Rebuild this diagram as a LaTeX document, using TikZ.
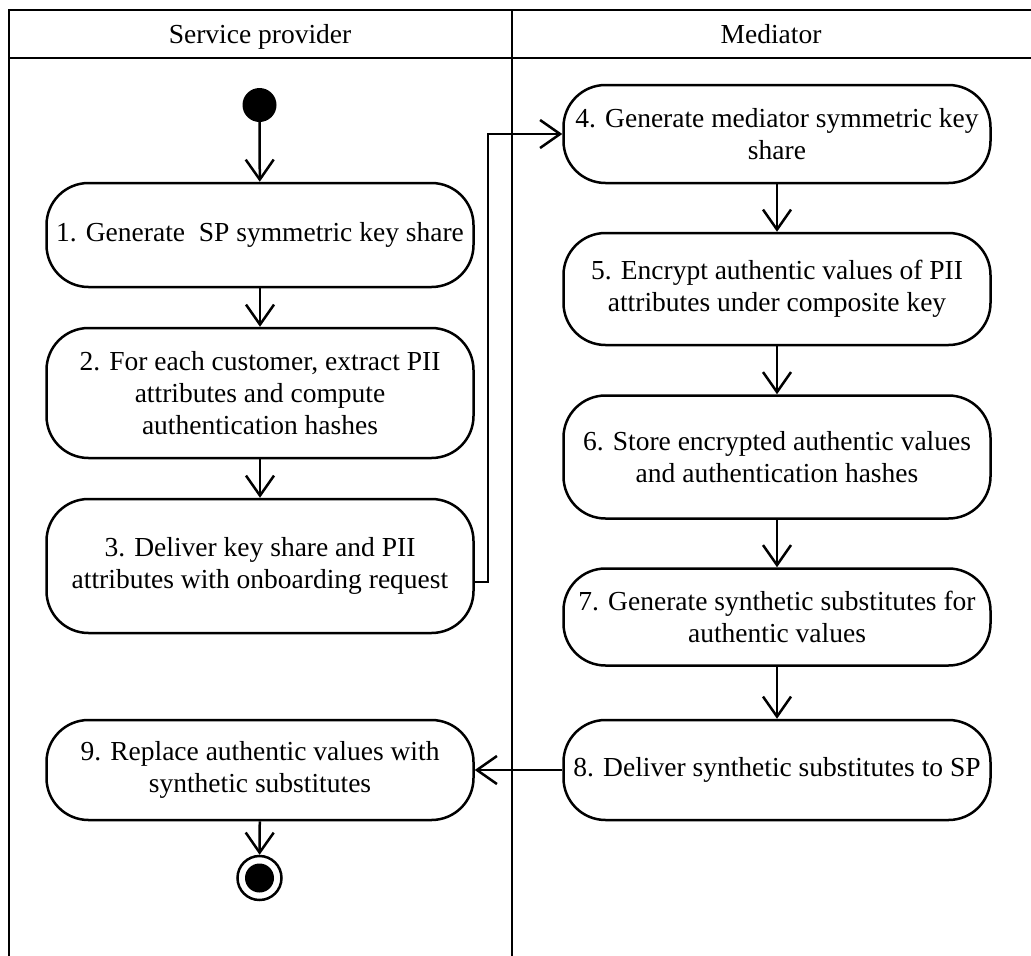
\documentclass[tikz,border=0pt]{standalone}
\usepackage{fontspec}
\setmainfont{Liberation Serif}
\usetikzlibrary{arrows.meta}
\tikzset{
  line/.style={line width=2.5pt},
  act/.style={draw, line width=2.5pt, rounded corners=42pt, align=center,
    inner sep=0pt, minimum width=427pt,
    font=\fontsize{27.5}{32}\selectfont},
  flow/.style={line width=2.5pt, -{Straight Barb[length=20pt,width=28pt,line width=2.5pt]}},
  lane/.style={anchor=base, inner sep=0pt, font=\fontsize{27.5}{32}\selectfont}
}
\begin{document}
\begin{tikzpicture}[x=1pt,y=-1pt]
\useasboundingbox (0,0) rectangle (1031,956);
% swimlane frame
\begin{scope}
\clip (0,0) rectangle (1031,956);
\draw[line] (9,960) -- (9,10) -- (1040,10);
\draw[line] (9,58) -- (1040,58);
\draw[line] (512,10) -- (512,960);
\end{scope}
\node[lane] (hsp) at (260,43) {Service provider};
\node[lane] (hmed) at (771,43) {Mediator};
% start and end
\node[circle, fill=black, minimum size=34pt, inner sep=0pt] (start) at (259.5,105) {};
\node[circle, draw, line width=2.5pt, fill=white, minimum size=44pt, inner sep=0pt] (finish) at (259.5,878) {};
\node[circle, fill=black, minimum size=29pt, inner sep=0pt] at (finish) {};
% service provider actions
\node[act, minimum height=104pt] (a1) at (260,235) {1. Generate\ \ SP symmetric key share};
\node[act, minimum height=130pt] (a2) at (260,393) {2. For each customer, extract PII\\attributes and compute\\authentication hashes};
\node[act, minimum height=134pt] (a3) at (260,566) {3. Deliver key share and PII\\attributes with onboarding request};
\node[act, minimum height=100pt] (a9) at (260,770) {9. Replace authentic values with\\synthetic substitutes};
% mediator actions
\node[act, minimum height=98pt] (a4) at (777,134) {4. Generate mediator symmetric key\\share};
\node[act, minimum height=112pt] (a5) at (777,289) {5. Encrypt authentic values of PII\\attributes under composite key};
\node[act, minimum height=123pt] (a6) at (777,457) {6. Store encrypted authentic values\\and authentication hashes};
\node[act, minimum height=97pt] (a7) at (777,617) {7. Generate synthetic substitutes for\\authentic values};
\node[act, minimum height=100pt] (a8) at (777,770) {8. Deliver synthetic substitutes to SP};
% control flow
\coordinate (bend) at (488,0);
\draw[flow] (start) -- (a1);
\draw[flow] (a1) -- (a2);
\draw[flow] (a2) -- (a3);
\draw[flow] ([yshift=-16pt]a3.east) -| (bend |- a4.west) -- (a4.west);
\draw[flow] (a4) -- (a5);
\draw[flow] (a5) -- (a6);
\draw[flow] (a6) -- (a7);
\draw[flow] (a7) -- (a8);
\draw[flow] (a8) -- (a9);
\draw[flow] (a9) -- (finish);
\end{tikzpicture}
\end{document}
